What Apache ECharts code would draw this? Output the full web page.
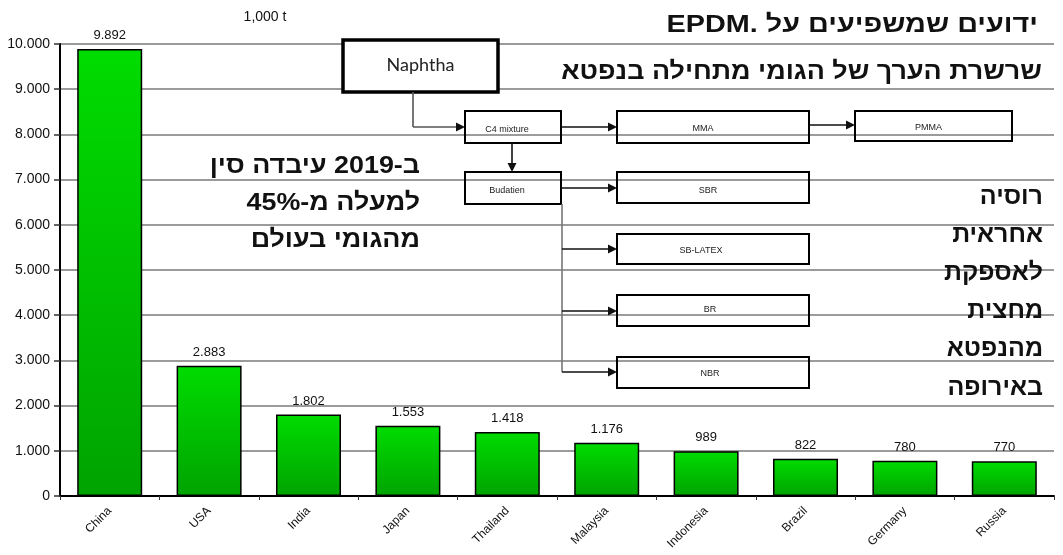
<!DOCTYPE html>
<html>
<head>
<meta charset="utf-8">
<script src="https://cdn.jsdelivr.net/npm/echarts@6/dist/echarts.min.js"></script>
<style>
html,body{margin:0;padding:0;background:#fff;}
#c{width:1063px;height:555px;}
</style>
</head>
<body>
<div id="c"></div>
<script>
// ---- data ----
const categories = ['China','USA','India','Japan','Thailand','Malaysia','Indonesia','Brazil','Germany','Russia'];
const values = [9892, 2883, 1802, 1553, 1418, 1176, 989, 822, 780, 770];
const yTicks = [0,1000,2000,3000,4000,5000,6000,7000,8000,9000,10000];
const unitLabel = '1,000 t';
const chinaText = ['ב-2019 עיבדה סין', 'למעלה מ-45%', 'מהגומי בעולם'];
const russiaText = ['רוסיה', 'אחראית', 'לאספקת', 'מחצית', 'מהנפטא', 'באירופה'];
const headText = 'ידועים שמשפיעים על EPDM.';
const chainText = 'שרשרת הערך של הגומי מתחילה בנפטא';

function fmt(v){ return String(Math.round(v)).replace(/\B(?=(\d{3})+(?!\d))/g, '.'); }
function rtl(s){ return '\u202B' + s + '\u200E\u202C'; }

const heb = '"Liberation Sans", Arial, "DejaVu Sans", sans-serif';
const g = [];
function box(x, y, w, h, text, opts){
  opts = opts || {};
  g.push({type:'rect', z:10, shape:{x:x, y:y, width:w, height:h},
    style:{fill: opts.fill || 'rgba(0,0,0,0)', stroke:'#000', lineWidth: opts.lw || 2}});
  g.push({type:'text', z:11, x: x + w/2 + (opts.dx||0), y: y + h/2 + (opts.dy||0),
    style:{text:text, font: opts.font || '9px "Liberation Sans", Arial, sans-serif', fill:'#222', align:'center', verticalAlign:'middle'}});
}
function arrow(x1, y, x2, color){
  g.push({type:'line', z:10, shape:{x1:x1, y1:y, x2:x2-8, y2:y}, style:{stroke: color||'#111', lineWidth:1.6}});
  g.push({type:'polygon', z:10, shape:{points:[[x2,y],[x2-9,y-4.5],[x2-9,y+4.5]]}, style:{fill:'#111'}});
}
function vline(x, y1, y2, color){
  g.push({type:'line', z:10, shape:{x1:x, y1:y1, x2:x, y2:y2}, style:{stroke: color||'#111', lineWidth:1.6}});
}
function htext(x, y, t, sx){
  g.push({type:'text', z:12, x:x, y:y, scaleX:sx || 1, originX:0, originY:0,
    style:{text:t, font:'bold 24px ' + heb, fill:'#111', align:'right', verticalAlign:'middle'}});
}
// Naphtha
box(343, 40, 155, 52, 'Naphtha', {fill:'#fff', lw:3.5, font:'18px Lato, "Open Sans", sans-serif', dy:-1});
vline(413, 92, 127, '#555');
g.push({type:'line', z:10, shape:{x1:413, y1:127, x2:457, y2:127}, style:{stroke:'#555', lineWidth:1.6}});
g.push({type:'polygon', z:10, shape:{points:[[465,127],[456,122.5],[456,131.5]]}, style:{fill:'#111'}});
// row 1
box(465, 111, 96, 32, 'C4 mixture', {dx:-6, dy:3});
arrow(561, 127, 617);
box(617, 111, 192, 32, 'MMA', {dx:-10, dy:2});
arrow(809, 125, 855);
box(855, 111, 157, 30, 'PMMA', {dx:-5, dy:2});
// C4 -> Budatien
vline(512, 143, 164);
g.push({type:'polygon', z:10, shape:{points:[[512,172],[507.5,163],[516.5,163]]}, style:{fill:'#111'}});
box(465, 172, 96, 32, 'Budatien', {dx:-6, dy:3});
arrow(561, 188, 617);
box(617, 172, 192, 31, 'SBR', {dx:-5, dy:3});
vline(562, 204, 372, '#777');
arrow(562, 249, 617);
box(617, 234, 192, 30, 'SB-LATEX', {dx:-12, dy:2});
arrow(562, 311, 617);
box(617, 295, 192, 31, 'BR', {dx:-3, dy:-1});
arrow(562, 372, 617);
box(617, 357, 192, 31, 'NBR', {dx:-3, dy:1});

// texts
g.push({type:'text', z:12, x:265, y:17, style:{text:unitLabel, font:'14px "Liberation Sans", Arial, sans-serif', fill:'#111', align:'center', verticalAlign:'middle'}});
htext(1038, 25, rtl(headText), 1.2);
htext(1042, 72, chainText, 1.12);
chinaText.forEach(function(t, i){ htext(420, 166 + i*37, t, 1.12); });
russiaText.forEach(function(t, i){ htext(1043, 197 + i*38.2, t, 1.04); });

const chart = echarts.init(document.getElementById('c'), null, {renderer:'canvas'});
chart.setOption({
  animation:false,
  backgroundColor:'#fff',
  grid:{left:60, right:9, top:44, bottom:59, containLabel:false},
  xAxis:{
    type:'category', data:categories, boundaryGap:true,
    axisLine:{lineStyle:{color:'#000', width:2}},
    axisTick:{show:true, length:4, lineStyle:{color:'#333'}},
    axisLabel:{rotate:45, fontSize:12, color:'#111', margin:13, fontFamily:'"Liberation Sans", Arial, sans-serif'}
  },
  yAxis:{
    type:'value', min:yTicks[0], max:yTicks[yTicks.length-1], interval:1000,
    axisLine:{show:true, lineStyle:{color:'#000', width:2}},
    axisTick:{show:true, length:6, lineStyle:{color:'#333', width:1.5}},
    axisLabel:{formatter:fmt, fontSize:14, color:'#111', margin:10, fontFamily:'"Liberation Sans", Arial, sans-serif'},
    splitLine:{show:true, lineStyle:{color:'#7a7a7a', width:1.5}}
  },
  series:[{
    type:'bar', data:values, barWidth:65,
    itemStyle:{
      color:new echarts.graphic.LinearGradient(0,0,0,1,[{offset:0,color:'#00dc00'},{offset:1,color:'#00a300'}]),
      borderColor:'#000', borderWidth:1.5
    },
    label:{show:true, position:'top', distance:7, formatter:function(p){return fmt(p.value);}, fontSize:13, color:'#111', fontFamily:'"Liberation Sans", Arial, sans-serif'}
  }],
  graphic:g
});
</script>
</body>
</html>
